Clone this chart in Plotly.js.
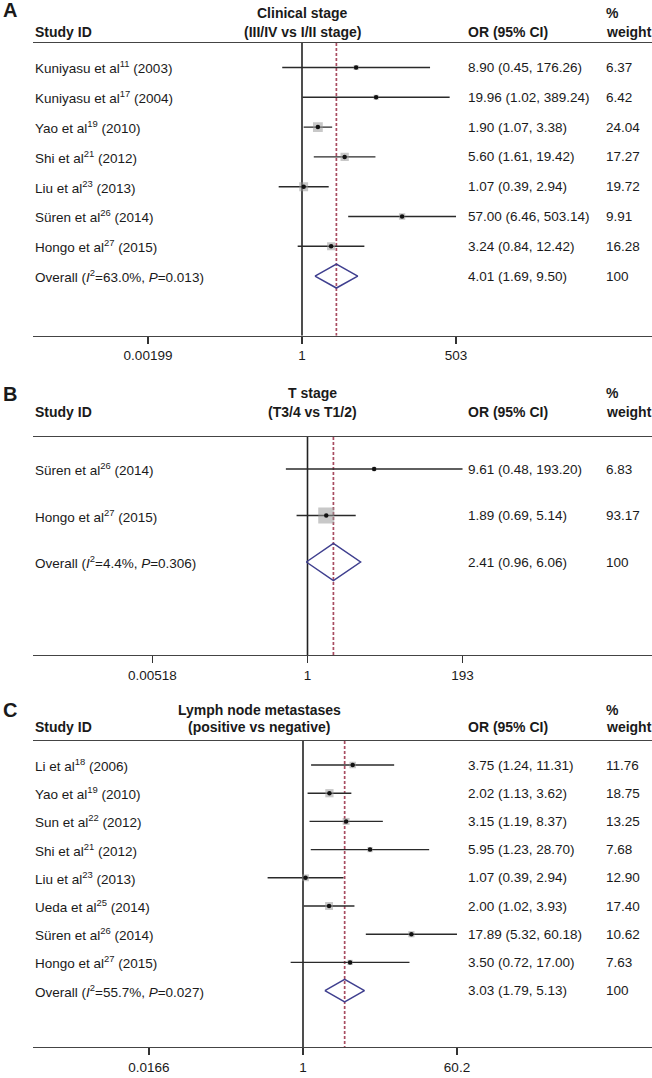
<!DOCTYPE html>
<html><head><meta charset="utf-8">
<script src="https://cdn.plot.ly/plotly-3.0.1.min.js"></script>
<style>html,body{margin:0;padding:0;background:#fff}</style>
</head><body><div id="chart" style="width:652px;height:1078px"></div>
<script>
// ---------- Panel A: Clinical stage ----------
const studiesA = ["Kuniyasu et al<sup>11</sup> (2003)", "Kuniyasu et al<sup>17</sup> (2004)", "Yao et al<sup>19</sup> (2010)", "Shi et al<sup>21</sup> (2012)", "Liu et al<sup>23</sup> (2013)", "Süren et al<sup>26</sup> (2014)", "Hongo et al<sup>27</sup> (2015)"];
const orA = [8.90, 19.96, 1.90, 5.60, 1.07, 57.00, 3.24];
const loA = [0.45, 1.02, 1.07, 1.61, 0.39, 6.46, 0.84];
const hiA = [176.26, 389.24, 3.38, 19.42, 2.94, 503.14, 12.42];
const wA = [6.37, 6.42, 24.04, 17.27, 19.72, 9.91, 16.28];
const overallA = [4.01, 1.69, 9.50];
const statsA = ["63.0%", "0.013"];
const ticksA = [0.00199, 1, 503];
const titleA = ["Clinical stage", "(III/IV vs I/II stage)"];

// ---------- Panel B: T stage ----------
const studiesB = ["Süren et al<sup>26</sup> (2014)", "Hongo et al<sup>27</sup> (2015)"];
const orB = [9.61, 1.89];
const loB = [0.48, 0.69];
const hiB = [193.20, 5.14];
const wB = [6.83, 93.17];
const overallB = [2.41, 0.96, 6.06];
const statsB = ["4.4%", "0.306"];
const ticksB = [0.00518, 1, 193];
const titleB = ["T stage", "(T3/4 vs T1/2)"];

// ---------- Panel C: Lymph node metastases ----------
const studiesC = ["Li et al<sup>18</sup> (2006)", "Yao et al<sup>19</sup> (2010)", "Sun et al<sup>22</sup> (2012)", "Shi et al<sup>21</sup> (2012)", "Liu et al<sup>23</sup> (2013)", "Ueda et al<sup>25</sup> (2014)", "Süren et al<sup>26</sup> (2014)", "Hongo et al<sup>27</sup> (2015)"];
const orC = [3.75, 2.02, 3.15, 5.95, 1.07, 2.00, 17.89, 3.50];
const loC = [1.24, 1.13, 1.19, 1.23, 0.39, 1.02, 5.32, 0.72];
const hiC = [11.31, 3.62, 8.37, 28.70, 2.94, 3.93, 60.18, 17.00];
const wC = [11.76, 18.75, 13.25, 7.68, 12.90, 17.40, 10.62, 7.63];
const overallC = [3.03, 1.79, 5.13];
const statsC = ["55.7%", "0.027"];
const ticksC = [0.0166, 1, 60.2];
const titleC = ["Lymph node metastases", "(positive vs negative)"];

// ---------- layout geometry (pixels) ----------
const W = 652, H = 1078;
const FONT = "Liberation Sans, Arial, Helvetica, sans-serif";
const TXT = "#1a1a1a";
const BODY = 13.5, HEAD = 14;
const xLeft = 33, xRight = 652, xOR = 466, xWt = 604;

const panels = [
  {key:"A", studies:studiesA, or:orA, lo:loA, hi:hiA, w:wA, ov:overallA, st:statsA, ticks:ticksA, title:titleA,
   headPx:43, firstPx:67.5, stepPx:29.8, nullPx:302, tickSpan:154, boxK:2.0,
   letterPx:10, t1Px:13.5, t2Px:32, titleX:302},
  {key:"B", studies:studiesB, or:orB, lo:loB, hi:hiB, w:wB, ov:overallB, st:statsB, ticks:ticksB, title:titleB,
   headPx:437, firstPx:469, stepPx:46.5, nullPx:307.5, tickSpan:155, boxK:1.66,
   letterPx:394, t1Px:393, t2Px:412, titleX:312},
  {key:"C", studies:studiesC, or:orC, lo:loC, hi:hiC, w:wC, ov:overallC, st:statsC, ticks:ticksC, title:titleC,
   headPx:741, firstPx:765, stepPx:28.2, nullPx:303, tickSpan:154, boxK:1.9,
   letterPx:710, t1Px:710, t2Px:727, titleX:259}
];

const fmt = v => v.toFixed(2);
const data = [];
const annotations = [];
const layout = {
  width: W, height: H, margin:{l:0,r:0,t:0,b:0},
  paper_bgcolor:"#fff", plot_bgcolor:"#fff", showlegend:false,
  font:{family:FONT, color:TXT, size:BODY},
  annotations: annotations
};

panels.forEach((p, k) => {
  const n = p.studies.length;
  const N = n + 1;                 // overall row
  const axisRow = N + 2;
  const axisPx = p.firstPx + (axisRow - 1) * p.stepPx;
  const headRow = 1 + (p.headPx - p.firstPx) / p.stepPx;
  const xa = k === 0 ? "x" : "x" + (k + 1);
  const ya = k === 0 ? "y" : "y" + (k + 1);
  const xk = k === 0 ? "xaxis" : "xaxis" + (k + 1);
  const yk = k === 0 ? "yaxis" : "yaxis" + (k + 1);
  const maxT = p.ticks[p.ticks.length - 1];
  const dec = p.tickSpan / Math.log10(maxT);
  const r0 = (xLeft - p.nullPx) / dec, r1 = (xRight - p.nullPx) / dec;

  layout[xk] = {
    type:"log", range:[r0, r1], domain:[xLeft / W, 1], anchor: ya,
    tickvals: p.ticks, ticktext: p.ticks.map(String),
    ticks:"outside", ticklen:7, tickwidth:1.3, tickcolor:"#333",
    showline:true, linecolor:"#444", linewidth:1.3, mirror:true,
    showgrid:false, zeroline:false, fixedrange:true,
    tickfont:{family:FONT, size:BODY, color:TXT}
  };
  layout[yk] = {
    domain:[1 - axisPx / H, 1 - p.headPx / H], range:[axisRow, headRow], anchor: xa,
    visible:false, showgrid:false, zeroline:false, fixedrange:true
  };

  const rows = p.studies.map((_, i) => i + 1);
  data.push({type:"scatter", mode:"lines", x:[1, 1], y:[headRow, axisRow], xaxis:xa, yaxis:ya,
    line:{color:"#222", width:1.6}, hoverinfo:"skip"});
  data.push({type:"scatter", mode:"lines", x:[p.ov[0], p.ov[0]], y:[headRow, axisRow], xaxis:xa, yaxis:ya,
    line:{color:"#a84c60", width:1.7, dash:"3px,2px"}, hoverinfo:"skip"});
  const wx = [], wy = [];
  rows.forEach((r, i) => { wx.push(p.lo[i], p.hi[i], null); wy.push(r, r, null); });
  data.push({type:"scatter", mode:"lines", x:wx, y:wy, xaxis:xa, yaxis:ya,
    line:{color:"#2a2a2a", width:1.4}, hoverinfo:"skip"});
  data.push({type:"scatter", mode:"markers", x:p.or, y:rows, xaxis:xa, yaxis:ya,
    marker:{symbol:"square", size:p.w.map(v => p.boxK * Math.sqrt(v)), color:"rgba(150,150,150,0.75)", line:{width:0}},
    hoverinfo:"skip"});
  data.push({type:"scatter", mode:"markers", x:p.or, y:rows, xaxis:xa, yaxis:ya,
    marker:{symbol:"circle", size:4.5, color:"#111"}, hoverinfo:"skip"});
  data.push({type:"scatter", mode:"lines", x:[p.ov[1], p.ov[0], p.ov[2], p.ov[0], p.ov[1]],
    y:[N, N - 0.4, N, N + 0.4, N], xaxis:xa, yaxis:ya,
    line:{color:"#3f3f8f", width:1.5}, hoverinfo:"skip"});

  const rowTxt = (txt, xPx, row) => annotations.push({xref:"paper", yref:ya, x:xPx / W, y:row,
    xanchor:"left", yanchor:"middle", text:txt, showarrow:false, font:{family:FONT, size:BODY, color:TXT}});
  p.studies.forEach((s, i) => {
    rowTxt(s, xLeft, i + 1);
    rowTxt(fmt(p.or[i]) + " (" + fmt(p.lo[i]) + ", " + fmt(p.hi[i]) + ")", xOR, i + 1);
    rowTxt(fmt(p.w[i]), xWt, i + 1);
  });
  rowTxt("Overall (<i>I</i><sup>2</sup>=" + p.st[0] + ", <i>P</i>=" + p.st[1] + ")", xLeft, N);
  rowTxt(fmt(p.ov[0]) + " (" + fmt(p.ov[1]) + ", " + fmt(p.ov[2]) + ")", xOR, N);
  rowTxt("100", xWt, N);

  const hdr = (txt, xPx, yPx, anchor, size) => annotations.push({xref:"paper", yref:"paper",
    x:xPx / W, y:1 - yPx / H, xanchor:anchor, yanchor:"middle", text:"<b>" + txt + "</b>",
    showarrow:false, font:{family:FONT, size:size || HEAD, color:TXT}});
  hdr(p.key, 1, p.letterPx, "left", 20);
  hdr(p.title[0], p.titleX, p.t1Px, "center");
  hdr(p.title[1], p.titleX, p.t2Px, "center");
  hdr("Study ID", xLeft, p.t2Px, "left");
  hdr("OR (95% CI)", xOR, p.t2Px, "left");
  hdr("%", xWt, p.t1Px, "left");
  hdr("weight", xWt, p.t2Px, "left");
});

Plotly.newPlot("chart", data, layout, {staticPlot:true, displayModeBar:false});
</script>
</body></html>
